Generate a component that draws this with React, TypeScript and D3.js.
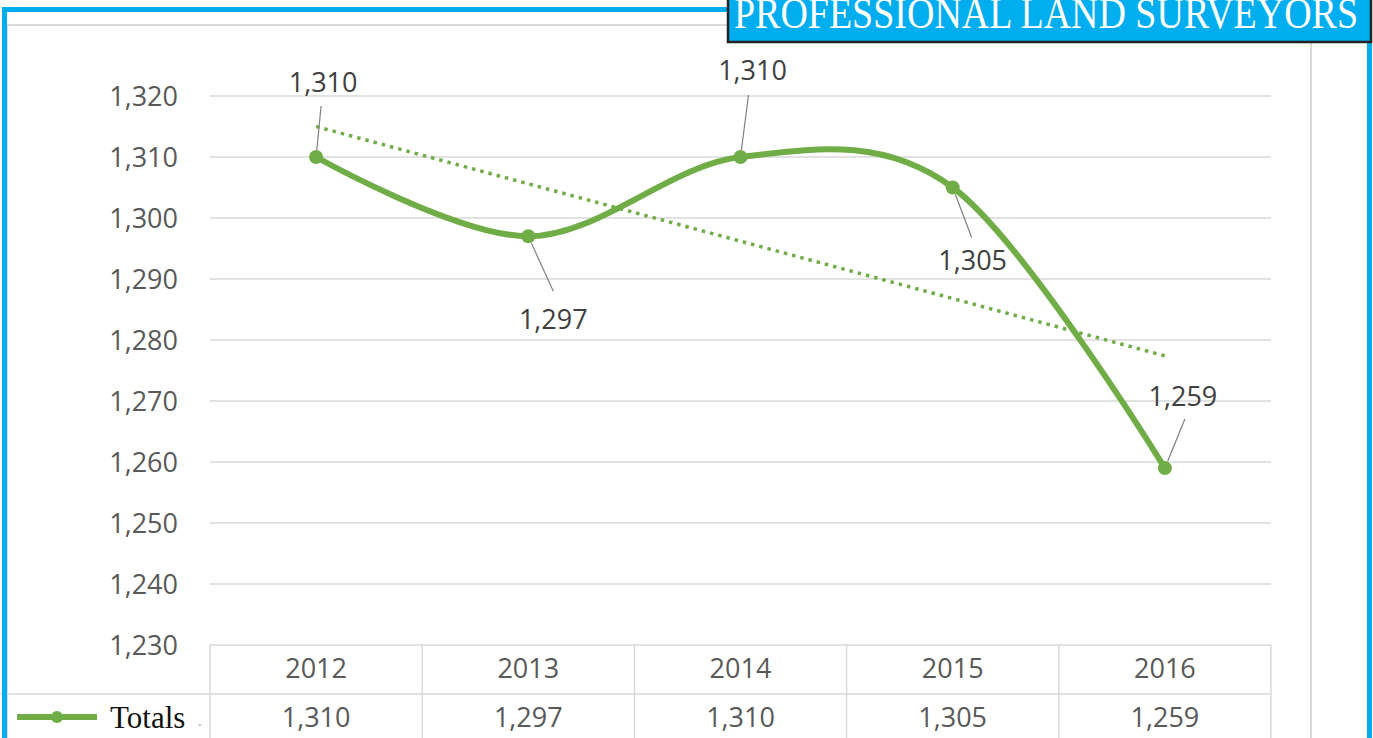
import React from "react";
import * as d3 from "d3";

const years = ["2012", "2013", "2014", "2015", "2016"];
const totals = [1310, 1297, 1310, 1305, 1259];
const yTicks = [1230, 1240, 1250, 1260, 1270, 1280, 1290, 1300, 1310, 1320];
const title = "PROFESSIONAL LAND SURVEYORS";
const seriesName = "Totals";

// where each data label sits relative to its point (label pos + leader end)
const labelOffsets = [
  { lx: 7, ly: -65, ax: 5, ay: -51 },
  { lx: 25, ly: 93, ax: 25, ay: 55 },
  { lx: 12, ly: -77, ax: 8, ay: -62 },
  { lx: 20, ly: 82, ax: 19, ay: 50 },
  { lx: 18, ly: -62, ax: 20, ay: -49 },
];

const W = 1373;
const H = 738;
const green = "#70AD47";
const grid = "#d9d9d9";
const textGray = "#595959";
const blue = "#00AEEF";
const font = "'Open Sans', sans-serif";

const App = () => {
  const x = d3.scaleBand<string>().domain(years).range([210, 1271]);
  const y = d3.scaleLinear().domain([1230, 1320]).range([645, 96]);
  const cx = (i: number) => (x(years[i]) as number) + x.bandwidth() / 2;

  const line = d3
    .line<number>()
    .x((_, i) => cx(i))
    .y((d) => y(d))
    .curve(d3.curveCardinal.tension(0));

  // linear trendline (least squares)
  const n = totals.length;
  const mx = d3.mean(d3.range(n)) as number;
  const my = d3.mean(totals) as number;
  const slope =
    d3.sum(totals, (v, i) => (i - mx) * (v - my)) /
    d3.sum(d3.range(n), (i) => (i - mx) * (i - mx));
  const icpt = my - slope * mx;
  const trend = [icpt, icpt + slope * (n - 1)];

  const fmt = d3.format(",");
  const cols = [210, ...years.map((yr) => (x(yr) as number) + x.bandwidth())];

  return (
    <svg
      width={W}
      height={H}
      style={{ position: "absolute", left: 0, top: 0, background: "#fff" }}
    >
      {/* chart frame */}
      <rect x={7} y={25} width={1304} height={H} fill="#fff" stroke={grid} strokeWidth={2} />

      {/* gridlines + y labels */}
      {yTicks.map((t) => (
        <g key={t}>
          <line x1={210} x2={1271} y1={y(t)} y2={y(t)} stroke={grid} strokeWidth={1.5} />
          <text
            x={178}
            y={y(t)}
            dy="0.36em"
            textAnchor="end"
            fontFamily={font}
            fontSize={27}
            fill={textGray}
          >
            {fmt(t)}
          </text>
        </g>
      ))}

      {/* data table */}
      <line x1={0} x2={1271} y1={694} y2={694} stroke={grid} strokeWidth={1.5} />
      {cols.map((c, i) => (
        <line key={i} x1={c} x2={c} y1={645} y2={H} stroke={grid} strokeWidth={1.5} />
      ))}
      {years.map((yr, i) => (
        <g key={yr}>
          <text x={cx(i)} y={678} textAnchor="middle" fontFamily={font} fontSize={27} fill={textGray}>
            {yr}
          </text>
          <text x={cx(i)} y={727} textAnchor="middle" fontFamily={font} fontSize={27} fill={textGray}>
            {fmt(totals[i])}
          </text>
        </g>
      ))}
      <line x1={17} x2={97} y1={717} y2={717} stroke={green} strokeWidth={6} />
      <circle cx={57} cy={717} r={6} fill={green} />
      <text x={110} y={728} fontFamily="'Liberation Serif', serif" fontSize={31} fill="#111">
        {seriesName}
      </text>
      <text x={198} y={726} fontFamily={font} fontSize={14} fill="#999">.</text>

      {/* trendline */}
      <line
        x1={cx(0)}
        x2={cx(n - 1)}
        y1={y(trend[0])}
        y2={y(trend[1])}
        stroke={green}
        strokeWidth={3.5}
        strokeDasharray="3.5 5"
      />

      {/* series */}
      <path d={line(totals) as string} fill="none" stroke={green} strokeWidth={6} strokeLinecap="round" />
      {totals.map((v, i) => (
        <circle key={i} cx={cx(i)} cy={y(v)} r={7} fill={green} />
      ))}

      {/* data labels with leaders */}
      {totals.map((v, i) => {
        const o = labelOffsets[i];
        const px = cx(i);
        const py = y(v);
        const dir = o.ly < 0 ? -1 : 1;
        return (
          <g key={i}>
            <line
              x1={px + (o.ax / Math.abs(o.ay)) * 7}
              y1={py + dir * 7}
              x2={px + o.ax}
              y2={py + o.ay}
              stroke="#7f7f7f"
              strokeWidth={1.2}
            />
            <text
              x={px + o.lx}
              y={py + o.ly}
              textAnchor="middle"
              fontFamily={font}
              fontSize={27}
              fill="#404040"
            >
              {fmt(v)}
            </text>
          </g>
        );
      })}

      {/* blue page border */}
      <line x1={4.5} x2={4.5} y1={7} y2={H} stroke={blue} strokeWidth={5} />
      <line x1={2} x2={730} y1={9.5} y2={9.5} stroke={blue} strokeWidth={5} />
      <line x1={1369.5} x2={1369.5} y1={40} y2={H} stroke={blue} strokeWidth={5} />

      {/* title box */}
      <rect x={728} y={-4} width={643} height={46} fill={blue} stroke="#222" strokeWidth={2.5} />
      <text
        x={734}
        y={28}
        fontFamily="'Liberation Serif', serif"
        fontSize={45}
        fill="#fff"
        textLength={624}
        lengthAdjust="spacingAndGlyphs"
      >
        {title}
      </text>
    </svg>
  );
};

export default App;
